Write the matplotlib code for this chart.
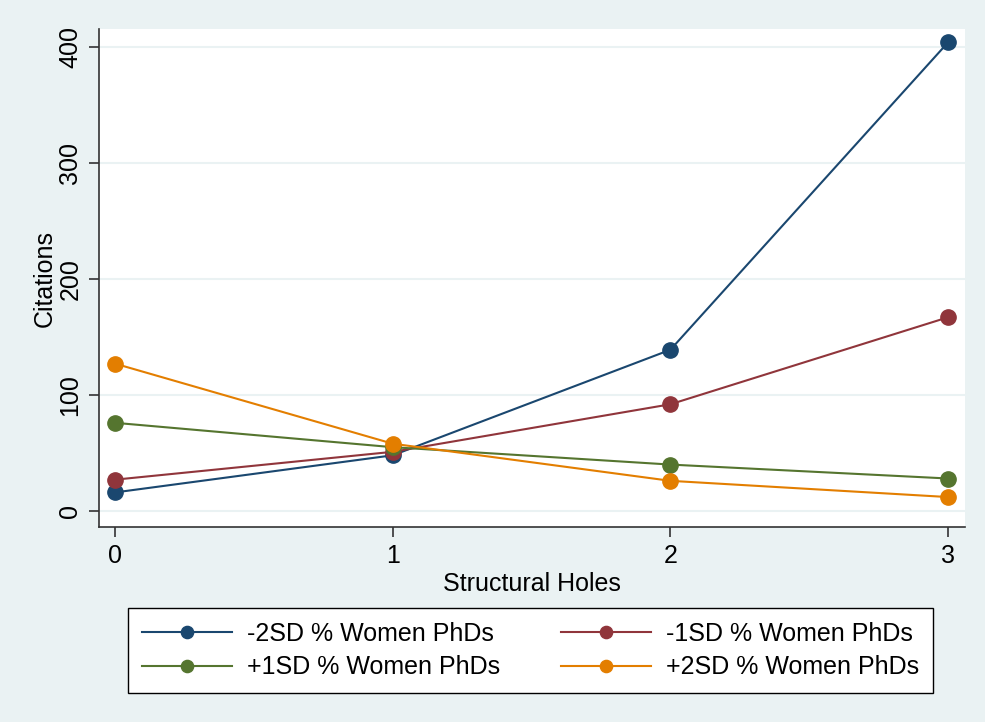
import matplotlib.pyplot as plt

plt.rcParams['font.family'] = ['Liberation Sans', 'DejaVu Sans']

# structural holes levels (x axis)
holes = [0, 1, 2, 3]

# predicted citations by % women PhDs level
minus2sd = [16, 48, 139, 404]
minus1sd = [27, 51, 92, 167]
plus1sd = [76, 55, 40, 28]
plus2sd = [127, 58, 26, 12]

labels = ['-2SD % Women PhDs', '-1SD % Women PhDs',
          '+1SD % Women PhDs', '+2SD % Women PhDs']
colors = ['#1A476F', '#90353B', '#55752F', '#E37E00']

bg = '#EAF2F3'

fig = plt.figure(figsize=(9.85, 7.22), dpi=100, facecolor=bg)
ax = fig.add_axes([0.1005, 0.2701, 0.8792, 0.6897])
ax.set_facecolor('white')

for ys, lab, c in zip([minus2sd, minus1sd, plus1sd, plus2sd], labels, colors):
    ax.plot(holes, ys, color=c, lw=1.5, marker='o', ms=11, label=lab, zorder=3)

ax.set_xlim(-0.058, 3.061)
ax.set_ylim(-13.8, 415.5)
ax.set_xticks([0, 1, 2, 3])
ax.set_yticks([0, 100, 200, 300, 400])
ax.yaxis.grid(True, color=bg, lw=1.5)
ax.set_axisbelow(True)

for s in ['top', 'right']:
    ax.spines[s].set_visible(False)
for s in ['left', 'bottom']:
    ax.spines[s].set_color('#333333')
    ax.spines[s].set_linewidth(1.2)

ax.tick_params(axis='both', length=7, width=1.2, color='#333333', labelsize=18, pad=5)
plt.setp(ax.get_yticklabels(), rotation=90, va='center')

ax.set_xlabel('Structural Holes', fontsize=18, labelpad=3)
ax.set_ylabel('Citations', fontsize=18, labelpad=1)

# legend filled row by row: reorder for matplotlib's column-major fill
h, l = ax.get_legend_handles_labels()
order = [0, 2, 1, 3]
leg = fig.legend([h[i] for i in order], [l[i] for i in order],
                 loc='center', ncol=2, mode='expand',
                 bbox_to_anchor=(0.130, 0.0457, 0.817, 0.1066),
                 fontsize=18, handlelength=3.6, handletextpad=0.6,
                 columnspacing=2.0, labelspacing=0.38, markerscale=0.8,
                 borderpad=0.55,
                 frameon=True, fancybox=False, edgecolor='black',
                 facecolor='white', borderaxespad=0)
leg.get_frame().set_linewidth(1.0)
leg.get_frame().set_alpha(1)

fig.savefig('out.png', dpi=100, facecolor=bg)
